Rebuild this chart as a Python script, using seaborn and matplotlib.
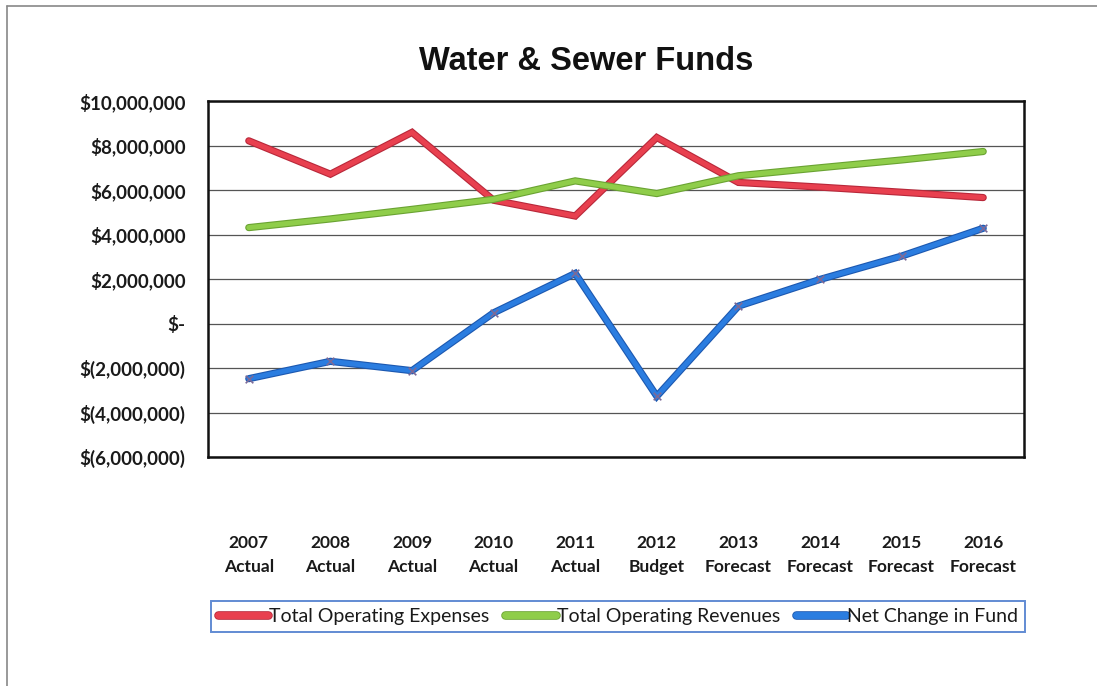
import matplotlib
matplotlib.use("Agg")
import matplotlib.pyplot as plt
import matplotlib.patheffects as pe
from matplotlib.lines import Line2D
from matplotlib.font_manager import FontProperties
import seaborn as sns
import pandas as pd

years = ["2007", "2008", "2009", "2010", "2011", "2012", "2013", "2014", "2015", "2016"]
stages = ["Actual", "Actual", "Actual", "Actual", "Actual", "Budget",
          "Forecast", "Forecast", "Forecast", "Forecast"]
expenses = [8210000, 6710000, 8590000, 5540000, 4830000, 8360000, 6340000, 6130000, 5900000, 5660000]
revenues = [4310000, 4700000, 5130000, 5580000, 6410000, 5840000, 6640000, 7000000, 7350000, 7730000]
net_change = [-2480000, -1700000, -2120000, 480000, 2250000, -3270000, 780000, 1980000, 3030000, 4280000]

series_names = ["Total Operating Expenses", "Total Operating Revenues", "Net Change in Fund"]
series_values = [expenses, revenues, net_change]
colors = {"Total Operating Expenses": "#e8404f",
          "Total Operating Revenues": "#8fcd4a",
          "Net Change in Fund": "#2b7de0"}
edges = {"Total Operating Expenses": "#b8283a",
         "Total Operating Revenues": "#6aa332",
         "Net Change in Fund": "#1c58b0"}

y_ticks = [10000000, 8000000, 6000000, 4000000, 2000000, 0, -2000000, -4000000, -6000000]

categories = [f"{y}\n{s}" for y, s in zip(years, stages)]
rows = []
for name, vals in zip(series_names, series_values):
    for cat, v in zip(categories, vals):
        rows.append({"Period": cat, "Value": v, "Series": name})
df = pd.DataFrame(rows)

sns.set_theme(style="white")
plt.rcParams["font.family"] = ["Lato", "DejaVu Sans"]

fig = plt.figure(figsize=(10.97, 6.86), dpi=100)
ax = fig.add_axes([208 / 1097, 1 - 457 / 686, (1024 - 208) / 1097, (457 - 101) / 686])

sns.lineplot(data=df, x="Period", y="Value", hue="Series", palette=colors,
             hue_order=series_names, linewidth=3.6, sort=False, legend=False, ax=ax)
for line, name in zip(ax.get_lines(), series_names):
    line.set_path_effects([pe.Stroke(linewidth=5.2, foreground=edges[name]), pe.Normal()])
    line.set_solid_capstyle("round")
    line.set_solid_joinstyle("miter")

net_df = df[df["Series"] == "Net Change in Fund"]
sns.scatterplot(data=net_df, x="Period", y="Value", marker="x", color="#7b6a98",
                s=30, linewidth=1.2, zorder=5, legend=False, ax=ax)

ax.set_xlim(-0.5, len(categories) - 0.5)
ax.set_ylim(-6000000, 10000000)
ax.set_yticks(y_ticks)


def money(v):
    if v == 0:
        return "$-"
    if v < 0:
        return f"$({abs(v):,.0f})"
    return f"${v:,.0f}"


ax.set_yticklabels([money(v) for v in y_ticks], fontsize=13.5, fontweight="bold", color="#1a1a1a")
ax.set_xticks(range(len(categories)))
ax.set_xticklabels(categories, fontsize=12.5, fontweight="bold", color="#1a1a1a", linespacing=1.6)
ax.tick_params(axis="y", length=0, pad=16)
ax.tick_params(axis="x", length=0, pad=56)
ax.set_xlabel("")
ax.set_ylabel("")
ax.yaxis.grid(True, color="#555555", linewidth=0.9)
ax.set_axisbelow(True)
for sp in ax.spines.values():
    sp.set_color("#111111")
    sp.set_linewidth(1.8)

fig.text(586 / 1097, 1 - 62 / 686, "Water & Sewer Funds", ha="center", va="center",
         fontsize=23.5, fontweight="bold", family=["Liberation Sans", "DejaVu Sans"],
         color="#111111")

handles = [Line2D([0], [0], color=colors[n], linewidth=5, solid_capstyle="round",
                  path_effects=[pe.Stroke(linewidth=6.2, foreground=edges[n]), pe.Normal()])
           for n in series_names]
leg = fig.legend(handles, series_names, loc="center", bbox_to_anchor=(618 / 1097, 1 - 616.5 / 686),
                 ncol=3, frameon=True, fancybox=False, edgecolor="#3a6fc8",
                 prop=FontProperties(family="Lato", size=14),
                 handlelength=2.6, handletextpad=0.05, columnspacing=0.8, borderpad=0.35)
leg.get_frame().set_linewidth(1.4)
for t in leg.get_texts():
    t.set_color("#1a1a1a")

fig.add_artist(Line2D([7 / 1097, 7 / 1097], [0, 1 - 6 / 686], transform=fig.transFigure,
                      color="#888888", linewidth=1.2))
fig.add_artist(Line2D([7 / 1097, 1], [1 - 6 / 686, 1 - 6 / 686], transform=fig.transFigure,
                      color="#888888", linewidth=1.2))

fig.savefig("out.png", dpi=100)
